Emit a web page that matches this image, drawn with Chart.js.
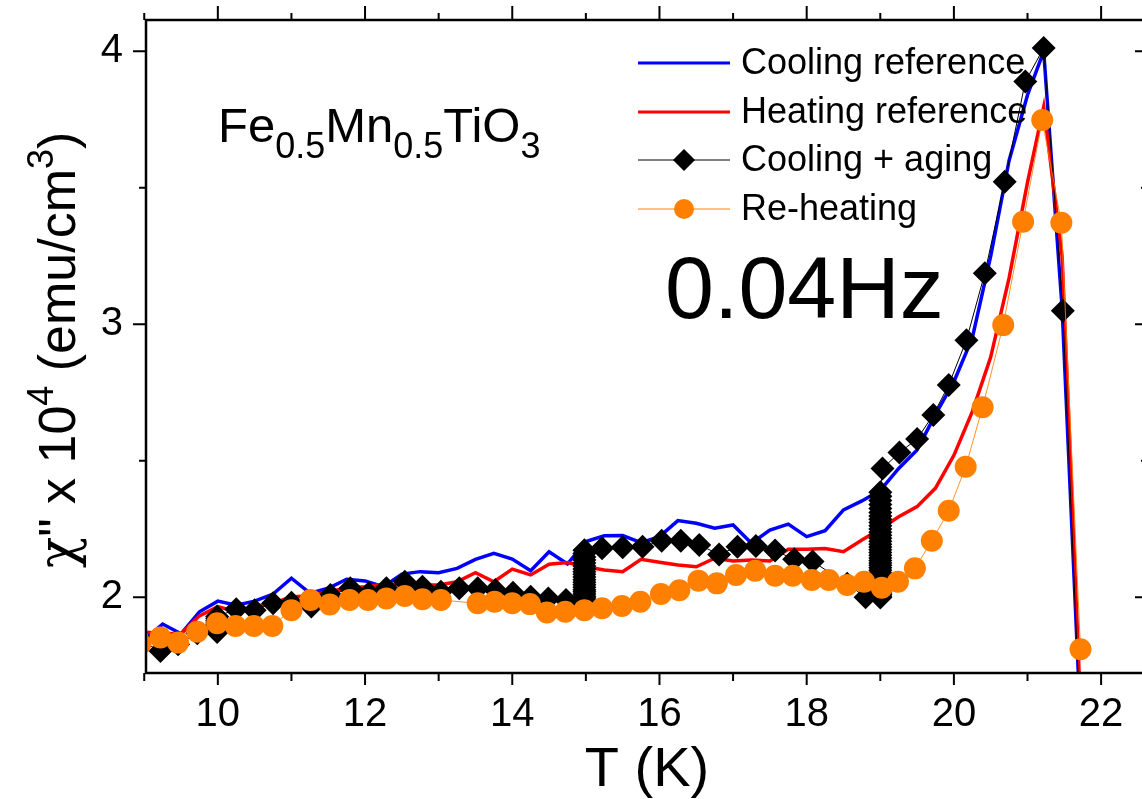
<!DOCTYPE html>
<html>
<head>
<meta charset="utf-8">
<title>Fe0.5Mn0.5TiO3 χ'' aging</title>
<script src="https://cdn.jsdelivr.net/npm/chart.js@4.4.1/dist/chart.umd.min.js"></script>
<style>
  html, body { margin: 0; padding: 0; background: #fff; overflow: hidden; }
  #wrap { width: 1160px; height: 799px; }
</style>
</head>
<body>
<div id="wrap"><canvas id="c" width="1160" height="799"></canvas></div>
<script>
// ---- Cooling reference (blue line) ----
const coolRefT = [9.00, 9.25, 9.50, 9.75, 10.00, 10.25, 10.50, 10.75, 11.00, 11.25, 11.50, 11.75,
  12.00, 12.25, 12.50, 12.75, 13.00, 13.25, 13.50, 13.75, 14.00, 14.25, 14.50, 14.75,
  15.00, 15.25, 15.50, 15.75, 16.00, 16.25, 16.50, 16.75, 17.00, 17.25, 17.50, 17.75,
  18.00, 18.25, 18.50, 18.75, 19.00, 19.25, 19.50, 19.75, 20.00, 20.25, 20.50, 20.75,
  21.00, 21.22, 21.47, 21.72];
const coolRefChi = [1.844, 1.902, 1.866, 1.947, 1.986, 1.971, 1.986, 2.012, 2.070, 2.015, 2.033, 2.066,
  2.060, 2.039, 2.085, 2.094, 2.090, 2.106, 2.139, 2.161, 2.140, 2.097, 2.167, 2.122,
  2.204, 2.225, 2.226, 2.200, 2.222, 2.281, 2.271, 2.253, 2.265, 2.198, 2.246, 2.268,
  2.222, 2.244, 2.320, 2.353, 2.392, 2.472, 2.540, 2.670, 2.790, 2.950, 3.250, 3.600,
  3.840, 4.000, 3.060, 1.540];

// ---- Heating reference (red line) ----
const heatRefT = coolRefT;
const heatRefChi = [1.872, 1.868, 1.866, 1.932, 1.966, 1.947, 1.966, 1.978, 2.002, 2.005, 2.020, 2.033,
  2.039, 2.048, 2.045, 2.045, 2.045, 2.057, 2.090, 2.057, 2.103, 2.082, 2.121, 2.127,
  2.112, 2.100, 2.094, 2.139, 2.128, 2.118, 2.112, 2.143, 2.133, 2.137, 2.133, 2.176,
  2.176, 2.179, 2.167, 2.210, 2.250, 2.295, 2.332, 2.400, 2.520, 2.680, 2.880, 3.170,
  3.520, 3.797, 3.250, 1.600];

// ---- Cooling + aging (black diamonds), in measurement order ----
// cooling from above the peak down to the first stop
const agingHighT   = [21.72, 21.48, 21.22, 20.97, 20.69, 20.42, 20.17, 19.93, 19.72, 19.50, 19.26, 19.03];
const agingHighChi = [1.500, 3.050, 4.012, 3.889, 3.522, 3.187, 2.942, 2.778, 2.668, 2.580, 2.530, 2.472];
// relaxation during the stop at 19 K
const stop19T = 19.00;
const stop19Chi = [2.385, 2.370, 2.355, 2.340, 2.325, 2.311, 2.298, 2.286, 2.274, 2.262, 2.250, 2.238,
  2.227, 2.216, 2.205, 2.194, 2.184, 2.174, 2.164, 2.154, 2.144, 2.135, 2.126, 2.117, 2.108, 2.099,
  2.090, 2.082, 2.074, 2.066, 2.058, 2.050, 2.043, 2.036, 2.029, 2.022, 2.016, 2.010, 2.004, 1.999];
// cooling 19 K -> 15 K
const agingMidT   = [18.80, 18.55, 18.08, 17.83, 17.57, 17.31, 17.06, 16.81, 16.54, 16.29, 16.03, 15.77, 15.50, 15.22];
const agingMidChi = [2.000, 2.050, 2.131, 2.139, 2.171, 2.188, 2.185, 2.157, 2.192, 2.207, 2.207, 2.185, 2.183, 2.180];
// relaxation during the stop at 15 K
const stop15T = 14.98;
const stop15Chi = [2.172, 2.160, 2.148, 2.137, 2.126, 2.115, 2.104, 2.094, 2.084, 2.074, 2.064, 2.055, 2.046,
  2.037, 2.028, 2.020, 2.012, 2.004, 1.997, 1.990, 1.983, 1.977, 1.971, 1.965, 1.960];
// cooling 15 K -> 10 K
const agingLowT   = [14.73, 14.49, 14.25, 14.01, 13.77, 13.53, 13.28, 13.03, 12.78, 12.54, 12.29, 12.05,
  11.80, 11.53, 11.27, 11.00, 10.75, 10.50, 10.25];
const agingLowChi = [1.990, 1.996, 2.002, 2.017, 2.027, 2.033, 2.033, 2.020, 2.039, 2.057, 2.033, 2.015,
  2.033, 2.008, 1.966, 1.980, 1.978, 1.953, 1.956];
// relaxation during the stop at 10 K
const stop10T = 9.99;
const stop10Chi = [1.930, 1.922, 1.914, 1.906, 1.899, 1.892, 1.885, 1.879, 1.873];
// cooling below 10 K
const agingEndT   = [9.72, 9.46, 9.22, 8.95];
const agingEndChi = [1.868, 1.828, 1.803, 1.840];

// ---- Re-heating (orange circles) ----
const reheatT = [8.95, 9.22, 9.46, 9.72, 9.99, 10.24, 10.49, 10.74, 11.00, 11.26, 11.52, 11.79,
  12.04, 12.29, 12.54, 12.78, 13.03, 13.53, 13.76, 14.00, 14.24, 14.47, 14.72, 14.98,
  15.22, 15.49, 15.74, 16.02, 16.27, 16.53, 16.78, 17.04, 17.30, 17.57, 17.81, 18.07,
  18.30, 18.55, 18.78, 19.02, 19.24, 19.47, 19.70, 19.93, 20.16, 20.39, 20.67, 20.94,
  21.20, 21.46, 21.72];
const reheatChi = [1.830, 1.853, 1.834, 1.874, 1.905, 1.895, 1.895, 1.895, 1.953, 1.990, 1.974, 1.990,
  1.990, 1.996, 2.005, 1.993, 1.990, 1.978, 1.984, 1.978, 1.975, 1.944, 1.947, 1.953,
  1.960, 1.968, 1.984, 2.012, 2.026, 2.061, 2.051, 2.082, 2.097, 2.079, 2.079, 2.063,
  2.063, 2.045, 2.057, 2.035, 2.057, 2.106, 2.207, 2.317, 2.478, 2.696, 2.997, 3.376,
  3.748, 3.372, 1.810];

// ---- Axes ----
const xMajorTicks = [10, 12, 14, 16, 18, 20, 22];
const xMinorTicks = [9, 11, 13, 15, 17, 19, 21];
const yMajorTicks = [2, 3, 4];
const yMinorTicks = [2.5, 3.5];
const xRange = [9.024, 22.637];
const yRange = [1.7227, 4.1146];

// ---- Texts ----
const seriesLabels = ['Cooling reference', 'Heating reference', 'Cooling + aging', 'Re-heating'];
const xTitle = 'T (K)';
const yTitleRuns = [{ t: 'χ', greek: true }, { t: '" x 10' }, { t: '4', sup: true }, { t: ' (emu/cm' }, { t: '3', sup: true }, { t: ')' }];
const formulaRuns = [{ t: 'Fe' }, { t: '0.5', sub: true }, { t: 'Mn' }, { t: '0.5', sub: true }, { t: 'TiO' }, { t: '3', sub: true }];
const freqText = '0.04Hz';

const FONT = '"Liberation Sans", Arial, Helvetica, sans-serif';
const GREEK = '"DejaVu Serif", "Liberation Serif", serif';
const BLUE = '#0000ff', RED = '#ff0000', BLACK = '#000000', ORANGE = '#ff8000';

const pts = (xs, ys) => xs.map((x, i) => ({ x: x, y: ys[i] }));
const stack = (t, ys) => ys.map(y => ({ x: t, y: y }));

const agingPoints = [].concat(
  pts(agingHighT, agingHighChi),
  stack(stop19T, stop19Chi),
  pts(agingMidT, agingMidChi),
  stack(stop15T, stop15Chi),
  pts(agingLowT, agingLowChi),
  stack(stop10T, stop10Chi),
  pts(agingEndT, agingEndChi)
);

function runFont(r, size, smallSize) {
  const s = (r.sub || r.sup) ? smallSize : size;
  return s + 'px ' + (r.greek ? GREEK : FONT);
}

function drawRuns(ctx, runs, x, y, size, smallSize, align) {
  let total = 0;
  runs.forEach(r => {
    ctx.font = runFont(r, size, smallSize);
    r.w = ctx.measureText(r.t).width;
    total += r.w;
  });
  let cx = align === 'center' ? x - total / 2 : x;
  ctx.textAlign = 'left';
  ctx.textBaseline = 'alphabetic';
  runs.forEach(r => {
    ctx.font = runFont(r, size, smallSize);
    const dy = r.sub ? size * 0.33 : (r.sup ? -size * 0.42 : 0);
    ctx.fillText(r.t, cx, y + dy);
    cx += r.w;
  });
}

// Frame, tick marks, legend and text annotations
const decorations = {
  id: 'decorations',
  afterDraw(chart) {
    const ctx = chart.ctx;
    const a = chart.chartArea;
    const xs = chart.scales.x, ys = chart.scales.y;
    ctx.save();
    ctx.strokeStyle = BLACK;
    ctx.fillStyle = BLACK;

    // frame
    ctx.lineWidth = 2.5;
    ctx.beginPath();
    ctx.rect(a.left, a.top, a.right - a.left, a.bottom - a.top);
    ctx.stroke();

    // tick marks: outward on left, bottom and top; inward on the right
    ctx.lineWidth = 2;
    ctx.beginPath();
    xMajorTicks.forEach(v => {
      const p = xs.getPixelForValue(v);
      ctx.moveTo(p, a.bottom); ctx.lineTo(p, a.bottom + 12);
      ctx.moveTo(p, a.top); ctx.lineTo(p, a.top - 14);
    });
    xMinorTicks.forEach(v => {
      const p = xs.getPixelForValue(v);
      ctx.moveTo(p, a.bottom); ctx.lineTo(p, a.bottom + 8);
      ctx.moveTo(p, a.top); ctx.lineTo(p, a.top - 7);
    });
    yMajorTicks.forEach(v => {
      const p = ys.getPixelForValue(v);
      ctx.moveTo(a.left, p); ctx.lineTo(a.left - 13, p);
      ctx.moveTo(a.right, p); ctx.lineTo(a.right - 13, p);
    });
    yMinorTicks.forEach(v => {
      const p = ys.getPixelForValue(v);
      ctx.moveTo(a.left, p); ctx.lineTo(a.left - 7, p);
      ctx.moveTo(a.right, p); ctx.lineTo(a.right - 7, p);
    });
    ctx.stroke();

    // axis titles
    ctx.font = '56px ' + FONT;
    ctx.textAlign = 'center';
    ctx.textBaseline = 'alphabetic';
    ctx.fillText(xTitle, (a.left + a.right) / 2, 786);

    ctx.save();
    ctx.translate(75, 350);
    ctx.rotate(-Math.PI / 2);
    drawRuns(ctx, yTitleRuns, 0, 0, 52, 36, 'center');
    ctx.restore();

    // composition and frequency
    drawRuns(ctx, formulaRuns, 218, 142, 49, 36, 'left');
    ctx.font = '88px ' + FONT;
    ctx.textAlign = 'left';
    ctx.textBaseline = 'alphabetic';
    ctx.fillText(freqText, 665, 318);

    // legend
    const rows = [63, 112, 160, 209];
    const x0 = 638, x1 = 730, xm = 684, xt = 741;
    const styles = [
      { color: BLUE, width: 3 },
      { color: RED, width: 3 },
      { color: BLACK, width: 1, marker: 'diamond' },
      { color: ORANGE, width: 1, marker: 'circle' }
    ];
    styles.forEach((s, i) => {
      const y = rows[i];
      ctx.strokeStyle = s.color;
      ctx.lineWidth = s.width;
      ctx.beginPath(); ctx.moveTo(x0, y); ctx.lineTo(x1, y); ctx.stroke();
      ctx.fillStyle = s.color;
      if (s.marker === 'diamond') {
        ctx.beginPath();
        ctx.moveTo(xm - 11, y); ctx.lineTo(xm, y - 11); ctx.lineTo(xm + 11, y); ctx.lineTo(xm, y + 11);
        ctx.closePath(); ctx.fill();
      } else if (s.marker === 'circle') {
        ctx.beginPath(); ctx.arc(xm, y, 10, 0, Math.PI * 2); ctx.fill();
      }
      ctx.fillStyle = BLACK;
      ctx.font = '36px ' + FONT;
      ctx.textAlign = 'left';
      ctx.textBaseline = 'middle';
      ctx.fillText(seriesLabels[i], xt, y + 1);
    });
    ctx.restore();
  }
};

new Chart(document.getElementById('c'), {
  type: 'line',
  data: {
    datasets: [
      {
        label: seriesLabels[0], data: pts(coolRefT, coolRefChi),
        borderColor: BLUE, borderWidth: 3.5, pointRadius: 0, tension: 0, order: 3
      },
      {
        label: seriesLabels[1], data: pts(heatRefT, heatRefChi),
        borderColor: RED, borderWidth: 3.5, pointRadius: 0, tension: 0, order: 2
      },
      {
        label: seriesLabels[2], data: agingPoints,
        borderColor: BLACK, borderWidth: 1, tension: 0, order: 1,
        pointStyle: 'rectRot', pointRadius: 12, pointBackgroundColor: BLACK, pointBorderWidth: 0
      },
      {
        label: seriesLabels[3], data: pts(reheatT, reheatChi),
        borderColor: 'rgba(255,128,0,0.85)', borderWidth: 1, tension: 0, order: 0,
        pointStyle: 'circle', pointRadius: 11, pointBackgroundColor: ORANGE, pointBorderWidth: 0
      }
    ]
  },
  options: {
    responsive: false,
    animation: false,
    devicePixelRatio: 1,
    layout: { padding: { top: 20, right: 10, left: 0, bottom: 0 } },
    plugins: { legend: { display: false }, tooltip: { enabled: false } },
    scales: {
      x: {
        type: 'linear', min: xRange[0], max: xRange[1],
        afterBuildTicks: s => { s.ticks = xMajorTicks.map(v => ({ value: v })); },
        afterFit: s => { s.height = 126; s.paddingLeft = 0; s.paddingRight = 0; },
        grid: { display: false, drawTicks: false },
        border: { display: false },
        ticks: {
          color: BLACK, padding: 18, maxRotation: 0, autoSkip: false,
          font: { family: FONT, size: 40 }
        }
      },
      y: {
        type: 'linear', min: yRange[0], max: yRange[1],
        afterBuildTicks: s => { s.ticks = yMajorTicks.map(v => ({ value: v })); },
        afterFit: s => { s.width = 146; s.paddingTop = 0; s.paddingBottom = 0; },
        grid: { display: false, drawTicks: false },
        border: { display: false },
        ticks: {
          color: BLACK, padding: 23,
          font: { family: FONT, size: 40 }
        }
      }
    }
  },
  plugins: [decorations]
});
</script>
</body>
</html>
